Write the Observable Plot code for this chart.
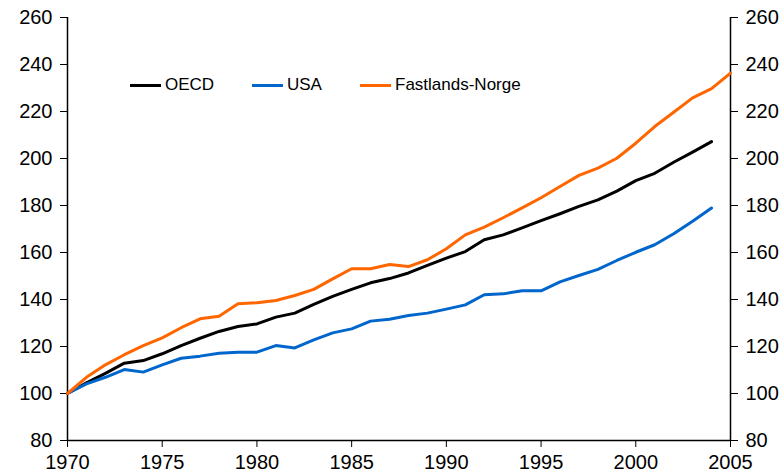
<!DOCTYPE html>
<html>
<head>
<meta charset="utf-8">
<script src="https://cdn.jsdelivr.net/npm/d3@7"></script>
<script src="https://cdn.jsdelivr.net/npm/@observablehq/plot@0.6"></script>
<style>
  html, body { margin: 0; padding: 0; background: #fff; }
  #wrap { position: relative; width: 783px; height: 474px; font-family: "Liberation Sans", Arial, sans-serif; }
  .item { position: absolute; top: 75px; display: flex; align-items: center; font-size: 17px; color: #000; white-space: nowrap; }
  .swatch { display: inline-block; width: 31px; height: 3px; margin-right: 4px; }
</style>
</head>
<body>
<div id="wrap"></div>
<script>
const years = d3.range(1970, 2006);
const seriesNames = ["OECD", "USA", "Fastlands-Norge"];
const seriesColors = ["#000000", "#0066CC", "#FF6600"];
const oecd = [100, 104.5, 108.6, 112.9, 114.0, 116.9, 120.4, 123.5, 126.4, 128.5, 129.6, 132.5, 134.2, 137.9, 141.3, 144.3, 147.1, 148.9, 151.3, 154.5, 157.6, 160.4, 165.4, 167.5, 170.5, 173.6, 176.5, 179.6, 182.4, 186.1, 190.6, 193.7, 198.4, 202.7, 207.2];
const usa = [100, 104.1, 106.9, 110.2, 109.1, 112.2, 115.0, 115.9, 117.1, 117.6, 117.6, 120.4, 119.4, 122.8, 125.8, 127.5, 130.8, 131.6, 133.2, 134.2, 135.9, 137.7, 142.0, 142.4, 143.7, 143.7, 147.5, 150.2, 152.8, 156.6, 160.1, 163.3, 168.0, 173.3, 178.9];
const norge = [100, 106.9, 112.2, 116.5, 120.4, 123.7, 128.0, 131.8, 132.9, 138.2, 138.6, 139.6, 141.7, 144.3, 148.8, 153.1, 153.1, 154.9, 154.0, 156.9, 161.6, 167.5, 170.8, 174.8, 179.0, 183.3, 188.1, 192.8, 195.9, 200.1, 206.5, 213.6, 219.7, 225.8, 229.7, 236.3];
const xTicks = [1970, 1975, 1980, 1985, 1990, 1995, 2000, 2005];
const yTicks = [80, 100, 120, 140, 160, 180, 200, 220, 240, 260];

const rows = [];
[oecd, usa, norge].forEach((arr, i) => arr.forEach((v, j) => rows.push({series: seriesNames[i], year: years[j], value: v})));

const xDom = [xTicks[0], xTicks[xTicks.length - 1]];
const yDom = [yTicks[0], yTicks[yTicks.length - 1]];

const chart = Plot.plot({
  width: 783,
  height: 474,
  marginLeft: 67,
  marginRight: 53,
  marginTop: 17,
  marginBottom: 34,
  style: {fontFamily: "'Liberation Sans', Arial, sans-serif", fontSize: "20px", color: "#000", background: "#fff", overflow: "visible"},
  x: {domain: xDom, ticks: xTicks, tickFormat: d => String(d)},
  y: {domain: yDom, ticks: yTicks},
  color: {domain: seriesNames, range: seriesColors},
  marks: [
    Plot.axisX({ticks: xTicks, tickFormat: d => String(d), tickSize: 7, tickPadding: 7, label: null, fontSize: 20}),
    Plot.axisY({anchor: "left", ticks: yTicks, tickSize: 7, tickPadding: 8, label: null, fontSize: 20}),
    Plot.axisY({anchor: "right", ticks: yTicks, tickSize: 7, tickPadding: 8, label: null, fontSize: 20}),
    Plot.ruleX([xDom[0]], {stroke: "#000", strokeWidth: 1.5}),
    Plot.ruleX([xDom[1]], {stroke: "#000", strokeWidth: 1.5}),
    Plot.ruleY([yDom[0]], {stroke: "#000", strokeWidth: 1.5}),
    Plot.line(rows, {x: "year", y: "value", z: "series", stroke: "series", strokeWidth: 3, curve: "linear"})
  ]
});
const wrap = document.getElementById("wrap");
wrap.appendChild(chart);

const legendLeft = [130, 252, 360];
seriesNames.forEach((name, i) => {
  const it = document.createElement("div");
  it.className = "item";
  it.style.left = legendLeft[i] + "px";
  const sw = document.createElement("span");
  sw.className = "swatch";
  sw.style.background = seriesColors[i];
  it.appendChild(sw);
  const t = document.createElement("span");
  t.textContent = name;
  it.appendChild(t);
  wrap.appendChild(it);
});
</script>
</body>
</html>
